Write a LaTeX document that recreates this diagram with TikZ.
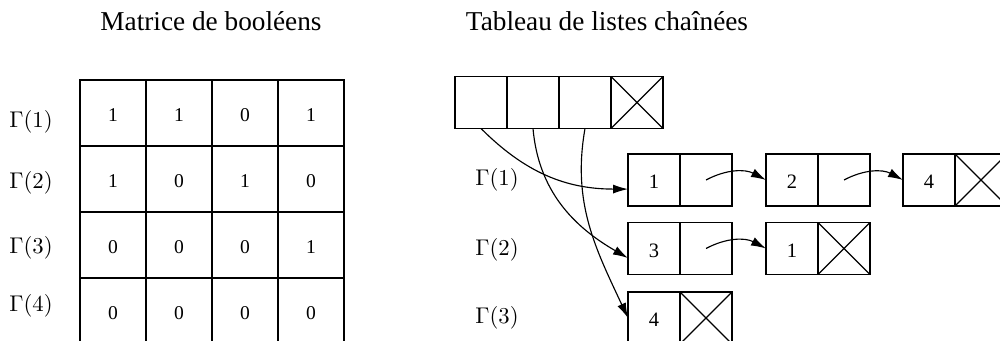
\documentclass[tikz,border=0pt]{standalone}
\usepackage{fontspec}
\setmainfont{Liberation Serif}
\usepackage{amsmath}
\usetikzlibrary{arrows.meta}

\tikzset{
    mcell/.style={draw, line width=0.6pt, minimum size=29.04pt, inner sep=0pt, outer sep=0pt,
        font=\fontsize{8.6}{10}\selectfont, text height=7.8pt, text depth=0pt},
    cell/.style={draw, line width=0.6pt, minimum size=22.88pt, inner sep=0pt, outer sep=0pt,
        font=\small, text height=7.8pt, text depth=0pt},
    nil/.style={path picture={
        \draw[line width=0.5pt] (path picture bounding box.north west) -- (path picture bounding box.south east)
              (path picture bounding box.north east) -- (path picture bounding box.south west);}},
    arr/.style={line width=0.5pt, -{Latex[length=6.6pt, width=4pt]}}
}

\begin{document}
\begin{tikzpicture}[x=0.44pt, y=0.44pt]

    \useasboundingbox (0,0) rectangle (1000,341);

    % Titles
    \node[anchor=base, font=\large] (title1) at (211,310) {Matrice de booléens};
    \node[anchor=base, font=\large] (title2) at (607,310) {Tableau de listes chaînées};

    % Draw the boolean matrix
    \foreach \row [count=\r] in {{1,1,0,1},{1,0,1,0},{0,0,0,1},{0,0,0,0}} {
        \foreach \v [count=\c] in \row {
            \node[mcell] (m\r\c) at ({47+66*\c}, {294-66*\r}) {\v};
        }
    }

    % Row labels of the matrix
    \foreach \r/\y in {1/219, 2/158, 3/93, 4/35} {
        \node (g\r) at (31,\y) {$\Gamma(\r)$};
    }

    % Array of list heads
    \foreach \i in {1,2,3} {
        \node[cell] (t\i) at ({429+52*\i},238.5) {};
    }
    \node[cell, nil] (t4) at (637,238.5) {};

    % Row labels of the lists
    \node (h1) at (497,161) {$\Gamma(1)$};
    \node (h2) at (497,91) {$\Gamma(2)$};
    \node (h3) at (497,23) {$\Gamma(3)$};

    % First list
    \node[cell] (a1) at (654,161) {1};
    \node[cell] (p1) at (706,161) {};
    \node[cell] (a2) at (792,161) {2};
    \node[cell] (p2) at (844,161) {};
    \node[cell] (a3) at (929,161) {4};
    \node[cell, nil] (p3) at (981,161) {};

    % Second list
    \node[cell] (b1) at (654,92.5) {3};
    \node[cell] (q1) at (706,92.5) {};
    \node[cell] (b2) at (792,92.5) {1};
    \node[cell, nil] (q2) at (844,92.5) {};

    % Third list
    \node[cell] (c1) at (654,23) {4};
    \node[cell, nil] (r1) at (706,23) {};

    % Pointers from the array
    \draw[arr] (t1.south) to[out=-45, in=180] ([yshift=-4pt]a1.west);
    \draw[arr] (t2.south) to[out=-85, in=150] ([yshift=-4.2pt]b1.west);
    \draw[arr] (t3.south) to[out=-100, in=115] (c1.west);

    % Pointers inside the lists
    \draw[arr] (p1.center) to[bend left=28] (a2.west);
    \draw[arr] (p2.center) to[bend left=28] (a3.west);
    \draw[arr] (q1.center) to[bend left=28] (b2.west);

\end{tikzpicture}
\end{document}
